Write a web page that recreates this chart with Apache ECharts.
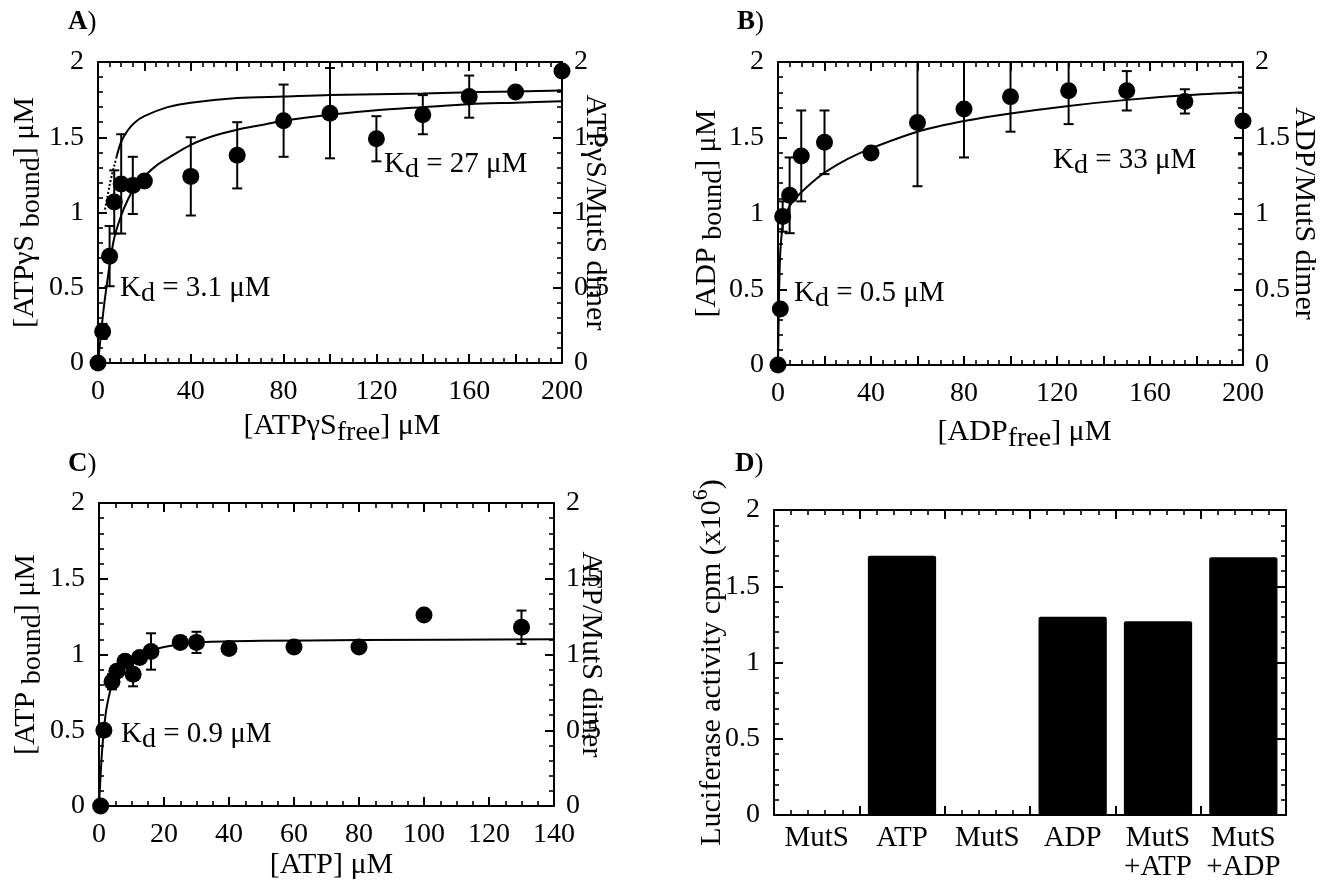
<!DOCTYPE html>
<html><head><meta charset="utf-8">
<script src="https://cdn.jsdelivr.net/npm/echarts@6/dist/echarts.min.js"></script>
<style>html,body{margin:0;padding:0;background:#fff}#c{width:1326px;height:882px}</style>
</head><body><div id="c"></div>
<script>
// ---------- Panel A: ATPγS binding ----------
const aX   = [0, 2, 5, 7, 10, 15, 20, 40, 60, 80, 100, 120, 140, 160, 180, 200];
const aY   = [0, 0.21, 0.71, 1.07, 1.19, 1.18, 1.21, 1.24, 1.38, 1.61, 1.66, 1.49, 1.65, 1.77, 1.80, 1.94];
const aErr = [0, 0.05, 0.2, 0.21, 0.33, 0.19, 0, 0.26, 0.22, 0.24, 0.3, 0.15, 0.13, 0.14, 0, 0.13];
const aFitHiX = [8, 10, 13, 16, 20, 30, 40, 60, 80, 100, 140, 165, 200];
const aFitHiY = [1.37, 1.47, 1.55, 1.60, 1.64, 1.70, 1.73, 1.76, 1.77, 1.78, 1.79, 1.80, 1.81];
const aFitDotX = [3, 4, 5, 6, 7, 8];
const aFitDotY = [1.02, 1.10, 1.18, 1.25, 1.31, 1.37];
const aFitLoX = [0, 1, 2, 3, 5, 7, 10, 13, 16, 20, 25, 30, 40, 50, 60, 70, 80, 100, 120, 140, 160, 180, 200];
const aFitLoY = [0, 0.15, 0.30, 0.43, 0.65, 0.83, 0.98, 1.09, 1.17, 1.24, 1.31, 1.36, 1.45, 1.51, 1.55, 1.58, 1.61, 1.65, 1.68, 1.70, 1.72, 1.73, 1.74];
// ---------- Panel B: ADP binding ----------
const bX   = [0, 1, 2, 5, 10, 20, 40, 60, 80, 100, 125, 150, 175, 200];
const bY   = [0, 0.37, 0.98, 1.12, 1.38, 1.47, 1.40, 1.60, 1.69, 1.77, 1.81, 1.81, 1.74, 1.61];
const bErr = [0, 0, 0.1, 0.25, 0.3, 0.21, 0.04, 0.42, 0.32, 0.23, 0.22, 0.13, 0.08, 0.22];
const bFitX = [0, 0.5, 1, 2, 3, 5, 7, 10, 15, 20, 30, 40, 60, 80, 100, 125, 150, 175, 200];
const bFitY = [0, 0.5, 0.75, 0.92, 0.98, 1.05, 1.09, 1.14, 1.21, 1.27, 1.36, 1.43, 1.54, 1.61, 1.66, 1.71, 1.75, 1.78, 1.80];
// ---------- Panel C: ATP binding ----------
const cX   = [0.5, 1.5, 4, 5.5, 8, 10.5, 12.5, 16, 25, 30, 40, 60, 80, 100, 130];
const cY   = [0, 0.50, 0.82, 0.89, 0.955, 0.87, 0.98, 1.02, 1.08, 1.08, 1.04, 1.05, 1.05, 1.26, 1.18];
const cErr = [0, 0, 0.05, 0, 0, 0.08, 0, 0.12, 0, 0.07, 0, 0, 0, 0, 0.11];
const cFitX = [0, 1, 2, 3, 4, 6, 8, 10, 15, 20, 30, 50, 80, 140];
const cFitY = [0, 0.38, 0.60, 0.72, 0.80, 0.89, 0.94, 0.97, 1.02, 1.05, 1.08, 1.09, 1.095, 1.10];
// ---------- Panel D: luciferase activity ----------
const dCats = ['MutS', 'ATP', 'MutS', 'ADP', 'MutS\n+ATP', 'MutS\n+ADP'];
const dVals = [0, 1.70, 0, 1.30, 1.27, 1.69];
// tick labels
const yTicks = { min: 0, max: 2, interval: 0.5 };

const FONT = "'Liberation Serif','Times New Roman',serif";
const K = '#000';
const FS = 28;   // tick labels
const NS = 30;   // axis names

function pairs(xs, ys) { return xs.map((x, i) => [x, ys[i]]); }
function triples(xs, ys, es) { return xs.map((x, i) => [x, ys[i], es[i]]); }

const richName = {
  n: { fontFamily: FONT, fontSize: NS, fontWeight: 'normal', color: K, lineHeight: 32, verticalAlign: 'top' },
  s: { fontFamily: FONT, fontSize: 28, fontWeight: 'normal', color: K, lineHeight: 32, verticalAlign: 'top', padding: [8, 0, 0, 0] },
  l: { fontFamily: FONT, fontSize: NS, fontWeight: 'normal', color: K, lineHeight: 32, verticalAlign: 'top', padding: [7, 0, 0, 0] },
  p: { fontFamily: FONT, fontSize: 22, fontWeight: 'normal', color: K, lineHeight: 32, verticalAlign: 'top' }
};

function axis(extra) {
  return Object.assign({
    type: 'value',
    nameMoveOverlap: false,
    axisLine: { show: true, onZero: false, lineStyle: { color: K, width: 2 } },
    axisTick: { show: true, inside: true, length: 9, lineStyle: { color: K, width: 2 } },
    minorTick: { show: true, length: 5, lineStyle: { color: K, width: 1.6 } },
    splitLine: { show: false },
    minorSplitLine: { show: false },
    axisLabel: { show: true, color: K, fontFamily: FONT, fontSize: FS, margin: 14 },
    nameTextStyle: { fontFamily: FONT, fontSize: NS, color: K, rich: richName }
  }, extra);
}
function yLeft(g, name, gap) {
  return axis(Object.assign({ gridIndex: g, position: 'left', name: name, nameLocation: 'middle', nameGap: gap,
    minorTick: { show: true, splitNumber: 5, length: 5, lineStyle: { color: K, width: 1.6 } } }, yTicks));
}
function yRight(g, name, gap, showLabel) {
  const o = axis(Object.assign({ gridIndex: g, position: 'right', name: name, nameLocation: 'middle', nameGap: gap, nameRotate: -90,
    minorTick: { show: true, splitNumber: 5, length: 5, lineStyle: { color: K, width: 1.6 } } }, yTicks));
  o.axisLabel.show = showLabel;
  o.axisLabel.margin = 12;
  return o;
}
function xBottom(g, max, interval, every, split, name, gap, pad) {
  const o = axis({ gridIndex: g, position: 'bottom', min: 0, max: max, interval: interval, name: name,
    nameLocation: 'middle', nameGap: gap,
    minorTick: { show: true, splitNumber: split, length: 5, lineStyle: { color: K, width: 1.6 } } });
  o.axisLabel.formatter = v => (Math.round(v) % every === 0 ? String(v) : '');
  o.axisLabel.margin = 15;
  o.nameTextStyle = Object.assign({}, o.nameTextStyle, { padding: pad || 0 });
  return o;
}
function xTop(g, max, interval, split) {
  const o = axis({ gridIndex: g, position: 'top', min: 0, max: max, interval: interval,
    minorTick: { show: true, splitNumber: split, length: 5, lineStyle: { color: K, width: 1.6 } } });
  o.axisLabel.show = false;
  return o;
}

function renderErr(params, api) {
  const x = api.value(0), y = api.value(1), e = api.value(2);
  if (!e) return null;
  const t = api.coord([x, y + e]), b = api.coord([x, y - e]);
  const w = 5, st = { stroke: K, lineWidth: 2 };
  return { type: 'group', children: [
    { type: 'line', shape: { x1: t[0], y1: t[1], x2: b[0], y2: b[1] }, style: st },
    { type: 'line', shape: { x1: t[0] - w, y1: t[1], x2: t[0] + w, y2: t[1] }, style: st },
    { type: 'line', shape: { x1: b[0] - w, y1: b[1], x2: b[0] + w, y2: b[1] }, style: st }
  ]};
}
function errSeries(xi, yi, data) {
  return { type: 'custom', xAxisIndex: xi, yAxisIndex: yi, renderItem: renderErr, clip: true,
    dimensions: ['x', 'y', 'e'], encode: { x: 'x', y: 'y' }, data: data, z: 3, silent: true };
}
function ptSeries(xi, yi, data) {
  return { type: 'scatter', xAxisIndex: xi, yAxisIndex: yi, data: data, symbol: 'circle', symbolSize: 17,
    itemStyle: { color: K, opacity: 1 }, z: 4, silent: true };
}
function fitSeries(xi, yi, data, type) {
  return { type: 'line', xAxisIndex: xi, yAxisIndex: yi, data: data, showSymbol: false, symbol: 'none',
    smooth: 0.3, lineStyle: { color: K, width: 2, type: type || 'solid' }, z: 2, silent: true };
}

const titleRich = {
  b: { fontFamily: FONT, fontSize: 27, fontWeight: 'bold', color: K },
  r: { fontFamily: FONT, fontSize: 27, fontWeight: 'normal', color: K },
  n: { fontFamily: FONT, fontSize: 29, fontWeight: 'normal', color: K, lineHeight: 32, verticalAlign: 'top' },
  d: { fontFamily: FONT, fontSize: 28, fontWeight: 'normal', color: K, lineHeight: 32, verticalAlign: 'top', padding: [6, 0, 0, 0] }
};
function label(text, left, top) {
  return { text: text, left: left, top: top, padding: 0,
    textStyle: { rich: titleRich, fontFamily: FONT, fontSize: 29, fontWeight: 'normal', color: K } };
}

const option = {
  animation: false,
  backgroundColor: '#fff',
  title: [
    label('{b|A}{r|)}', 68, 9),
    label('{b|B}{r|)}', 737, 9),
    label('{b|C}{r|)}', 68, 451),
    label('{b|D}{r|)}', 735, 451),
    label('{n|K}{d|d}{n| = 27 μM}', 384, 150),
    label('{n|K}{d|d}{n| = 3.1 μM}', 120, 274),
    label('{n|K}{d|d}{n| = 33 μM}', 1053, 146),
    label('{n|K}{d|d}{n| = 0.5 μM}', 794, 279),
    label('{n|K}{d|d}{n| = 0.9 μM}', 121, 720)
  ],
  grid: [
    { left: 98, top: 62, width: 464, height: 301 },
    { left: 778, top: 62, width: 465, height: 303 },
    { left: 99, top: 503, width: 455, height: 303 },
    { left: 774, top: 510, width: 512, height: 307 }
  ],
  xAxis: [
    xBottom(0, 200, 20, 40, 4, '{n|[ATPγS}{s|free}{n|] μM}', 48, [0, 0, 0, 24]),
    xTop(0, 200, 20, 4),
    xBottom(1, 200, 20, 40, 4, '{n|[ADP}{s|free}{n|] μM}', 52, [0, 0, 0, 28]),
    xTop(1, 200, 20, 4),
    xBottom(2, 140, 20, 20, 4, '{n|[ATP] μM}', 44, [0, 0, 0, 10]),
    xTop(2, 140, 20, 4),
    Object.assign(axis({ gridIndex: 3, type: 'category', position: 'bottom', data: dCats }), {
      axisTick: { show: false }, minorTick: { show: false },
      axisLabel: { interval: 0, color: K, fontFamily: FONT, fontSize: 29, lineHeight: 29, margin: 9 }
    }),
    (function () { const o = xTop(3, 6, 1, 5); o.position = 'bottom'; o.axisLine.show = false; return o; })(),
    xTop(3, 6, 1, 5)
  ],
  yAxis: [
    yLeft(0, '{n|[ATPγS }{s|bound}{n|] μM}', 56),
    yRight(0, 'ATPγS/MutS dimer', 18, true),
    yLeft(1, '{n|[ADP }{s|bound}{n|] μM}', 54),
    yRight(1, 'ADP/MutS dimer', 46, true),
    yLeft(2, '{n|[ATP }{s|bound}{n|] μM}', 56),
    yRight(2, 'ATP/MutS dimer', 22, true),
    yLeft(3, '{l|Luciferase activity cpm (x10}{p|6}{l|)}', 52),
    yRight(3, '', 10, false)
  ],
  series: [
    fitSeries(0, 0, pairs(aFitLoX, aFitLoY)),
    fitSeries(0, 0, pairs(aFitHiX, aFitHiY)),
    fitSeries(0, 0, pairs(aFitDotX, aFitDotY), 'dotted'),
    errSeries(0, 0, triples(aX, aY, aErr)),
    ptSeries(0, 0, pairs(aX, aY)),
    fitSeries(2, 2, pairs(bFitX, bFitY)),
    errSeries(2, 2, triples(bX, bY, bErr)),
    ptSeries(2, 2, pairs(bX, bY)),
    fitSeries(4, 4, pairs(cFitX, cFitY)),
    errSeries(4, 4, triples(cX, cY, cErr)),
    ptSeries(4, 4, pairs(cX, cY)),
    { type: 'bar', xAxisIndex: 6, yAxisIndex: 6, data: dVals, barCategoryGap: '20%',
      itemStyle: { color: K, borderRadius: 2 }, silent: true }
  ]
};
const chart = echarts.init(document.getElementById('c'), null, { renderer: 'canvas' });
chart.setOption(option);
</script></body></html>
